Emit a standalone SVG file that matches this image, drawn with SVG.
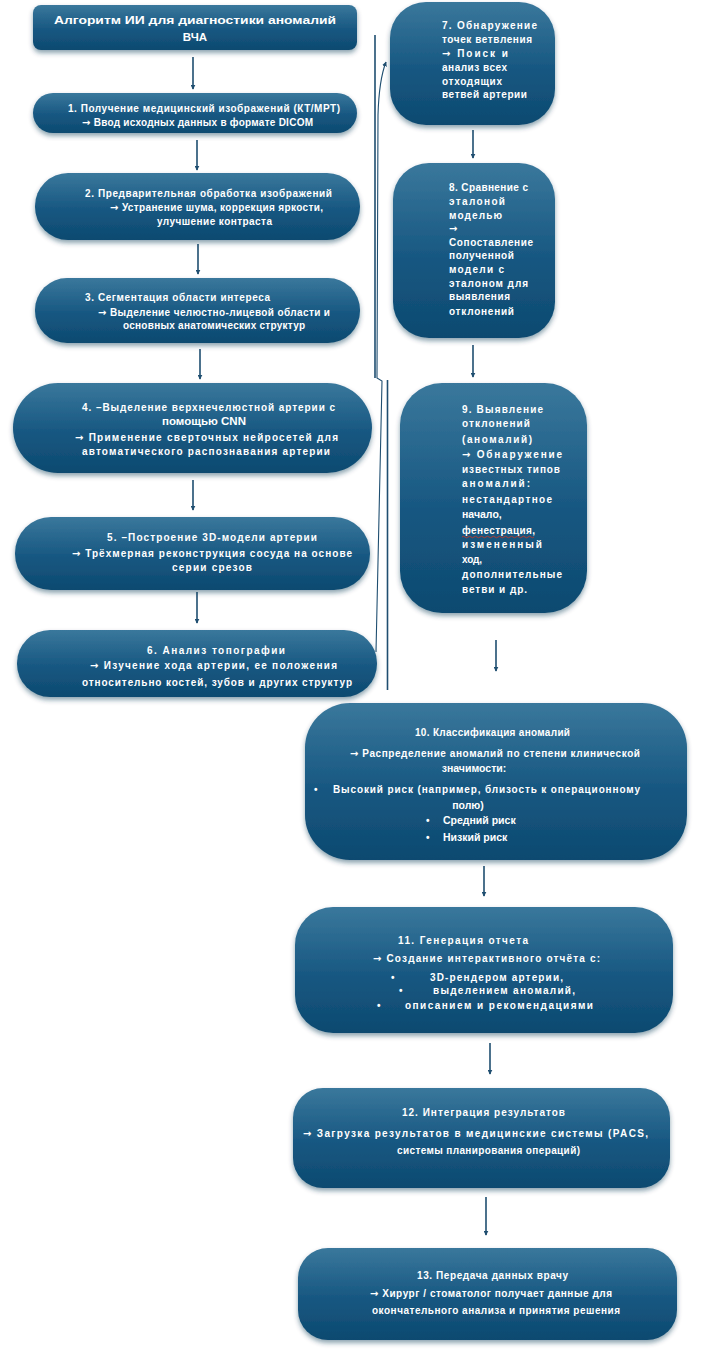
<svg xmlns="http://www.w3.org/2000/svg" width="721" height="1355" viewBox="0 0 721 1355">
<defs>
<linearGradient id="g" x1="0" y1="0" x2="0" y2="1">
<stop offset="0" stop-color="#3a789c"/>
<stop offset="0.55" stop-color="#175781"/>
<stop offset="1" stop-color="#0d4a70"/>
</linearGradient>
<filter id="sh" x="-10%" y="-10%" width="120%" height="130%">
<feDropShadow dx="0" dy="3" stdDeviation="2.5" flood-color="#0b3350" flood-opacity="0.45"/>
</filter>
<marker id="ah" viewBox="0 0 8 8" refX="7" refY="4" markerWidth="5" markerHeight="5" orient="auto" markerUnits="userSpaceOnUse">
<path d="M0,0 L8,4 L0,8 Z" fill="#1f4e70"/>
</marker>
</defs>
<style>
.box{fill:url(#g);filter:url(#sh)}
.t{font-family:"Liberation Sans",Arial,sans-serif;font-weight:bold;font-size:10px;fill:#ffffff}
.tt{font-family:"Liberation Sans",Arial,sans-serif;font-weight:bold;font-size:11.5px;fill:#ffffff}
.ar{font-family:"DejaVu Sans",sans-serif}
.c{stroke:#1f4e70;stroke-width:1.6;fill:none}
.cl{stroke:#1f4e70;stroke-width:1.1;fill:none}
</style>
<rect width="721" height="1355" fill="#ffffff"/>

<g id="connectors">
<line class="c" x1="193" y1="57" x2="193" y2="89" marker-end="url(#ah)"/>
<line class="c" x1="197" y1="140" x2="197" y2="170" marker-end="url(#ah)"/>
<line class="c" x1="198" y1="244" x2="198" y2="274" marker-end="url(#ah)"/>
<line class="c" x1="200" y1="349" x2="200" y2="379" marker-end="url(#ah)"/>
<line class="c" x1="193" y1="480" x2="193" y2="510" marker-end="url(#ah)"/>
<line class="c" x1="197" y1="592" x2="197" y2="623" marker-end="url(#ah)"/>
<line class="c" x1="473" y1="130" x2="473" y2="158" marker-end="url(#ah)"/>
<line class="c" x1="473" y1="345" x2="473" y2="377" marker-end="url(#ah)"/>
<line class="c" x1="496" y1="640" x2="496" y2="671" marker-end="url(#ah)"/>
<line class="c" x1="484" y1="866" x2="484" y2="896" marker-end="url(#ah)"/>
<line class="c" x1="490" y1="1043" x2="490" y2="1074" marker-end="url(#ah)"/>
<line class="c" x1="486" y1="1197" x2="486" y2="1235" marker-end="url(#ah)"/>
<line class="c" x1="375" y1="35" x2="375" y2="378"/>
<line class="c" x1="387.5" y1="380" x2="387.5" y2="690"/>
<path class="cl" d="M376,652 L382,381 L377,378 L378,115 Q379,80 386,62" marker-end="url(#ah)"/>
</g>

<g id="title">
<rect class="box" x="33" y="5" width="324" height="45" rx="8"/>
<text class="tt" x="195" y="24" text-anchor="middle" textLength="282" lengthAdjust="spacingAndGlyphs">Алгоритм ИИ для диагностики аномалий</text>
<text class="tt" x="195" y="41" text-anchor="middle">ВЧА</text>
</g>

<g id="node1">
<rect class="box" x="33" y="93" width="324" height="40" rx="20"/>
<text class="t" x="68" y="111.5" textLength="272" lengthAdjust="spacing">1.  Получение медицинский изображений (КТ/МРТ)</text>
<text class="t" x="82" y="125.5" textLength="231" lengthAdjust="spacing"><tspan class="ar">→</tspan> Ввод исходных данных в формате DICOM</text>
</g>

<g id="node2">
<rect class="box" x="35" y="173" width="325" height="67" rx="33"/>
<text class="t" x="85" y="196.5" textLength="247" lengthAdjust="spacing">2.  Предварительная обработка изображений</text>
<text class="t" x="110" y="210.5" textLength="213" lengthAdjust="spacing"><tspan class="ar">→</tspan> Устранение шума, коррекция яркости,</text>
<text class="t" x="157" y="224.5" textLength="115" lengthAdjust="spacing">улучшение контраста</text>
</g>

<g id="node3">
<rect class="box" x="35" y="278" width="325" height="65" rx="32"/>
<text class="t" x="85" y="300.5" textLength="185" lengthAdjust="spacing">3.  Сегментация области интереса</text>
<text class="t" x="98" y="315.5" textLength="232" lengthAdjust="spacing"><tspan class="ar">→</tspan> Выделение челюстно-лицевой области и</text>
<text class="t" x="123" y="328.5" textLength="182" lengthAdjust="spacing">основных анатомических структур</text>
</g>

<g id="node4">
<rect class="box" x="13" y="383" width="359" height="90" rx="45"/>
<text class="t" x="82" y="410.5" textLength="253" lengthAdjust="spacing">4. –Выделение верхнечелюстной артерии с</text>
<text class="t" x="204" y="424.5" text-anchor="middle" style="font-size:11.5px">помощью CNN</text>
<text class="t" x="75" y="440.5" textLength="263" lengthAdjust="spacing"><tspan class="ar">→</tspan> Применение сверточных нейросетей для</text>
<text class="t" x="82" y="454.5" textLength="248" lengthAdjust="spacing">автоматического распознавания артерии</text>
</g>

<g id="node5">
<rect class="box" x="15" y="517" width="355" height="73" rx="36"/>
<text class="t" x="107" y="540.5" textLength="210" lengthAdjust="spacing">5. –Построение 3D-модели артерии</text>
<text class="t" x="72" y="556.5" textLength="280" lengthAdjust="spacing"><tspan class="ar">→</tspan> Трёхмерная реконструкция сосуда на основе</text>
<text class="t" x="172" y="570.5" textLength="80" lengthAdjust="spacing">серии срезов</text>
</g>

<g id="node6">
<rect class="box" x="17" y="630" width="360" height="67" rx="33"/>
<text class="t" x="147" y="653.5" textLength="138" lengthAdjust="spacing">6.   Анализ топографии</text>
<text class="t" x="90" y="668.5" textLength="247" lengthAdjust="spacing"><tspan class="ar">→</tspan> Изучение хода артерии, ее положения</text>
<text class="t" x="82" y="685.5" textLength="270" lengthAdjust="spacing">относительно костей, зубов и других структур</text>
</g>

<g id="node7">
<rect class="box" x="390" y="2" width="165" height="123" rx="36"/>
<text class="t" x="442" y="28.5" textLength="95" lengthAdjust="spacing">7. Обнаружение</text>
<text class="t" x="442" y="42.5" textLength="90" lengthAdjust="spacing">точек ветвления</text>
<text class="t" x="442" y="56.5" textLength="66" lengthAdjust="spacing"><tspan class="ar">→</tspan> Поиск и</text>
<text class="t" x="442" y="70.5" textLength="65" lengthAdjust="spacing">анализ всех</text>
<text class="t" x="442" y="84.5" textLength="60" lengthAdjust="spacing">отходящих</text>
<text class="t" x="442" y="97.5" textLength="85" lengthAdjust="spacing">ветвей артерии</text>
</g>

<g id="node8">
<rect class="box" x="393" y="163" width="162" height="175" rx="36"/>
<text class="t" x="449" y="190.5" textLength="79" lengthAdjust="spacing">8. Сравнение с</text>
<text class="t" x="449" y="204.5" textLength="56" lengthAdjust="spacing">эталоной</text>
<text class="t" x="449" y="218.5" textLength="53" lengthAdjust="spacing">моделью</text>
<text class="t" x="449" y="231.5"><tspan class="ar">→</tspan></text>
<text class="t" x="449" y="245.5" textLength="84" lengthAdjust="spacing">Сопоставление</text>
<text class="t" x="449" y="258.5" textLength="65" lengthAdjust="spacing">полученной</text>
<text class="t" x="449" y="272.5" textLength="55" lengthAdjust="spacing">модели с</text>
<text class="t" x="449" y="286.5" textLength="79" lengthAdjust="spacing">эталоном для</text>
<text class="t" x="449" y="299.5" textLength="61" lengthAdjust="spacing">выявления</text>
<text class="t" x="449" y="314.5" textLength="65" lengthAdjust="spacing">отклонений</text>
</g>

<g id="node9">
<rect class="box" x="400" y="383" width="187" height="230" rx="42"/>
<text class="t" x="462" y="412.5" textLength="81" lengthAdjust="spacing">9. Выявление</text>
<text class="t" x="462" y="426.5" textLength="68" lengthAdjust="spacing">отклонений</text>
<text class="t" x="462" y="442.5" textLength="70" lengthAdjust="spacing">(аномалий)</text>
<text class="t" x="462" y="457.5" textLength="100" lengthAdjust="spacing"><tspan class="ar">→</tspan> Обнаружение</text>
<text class="t" x="462" y="472.5" textLength="98" lengthAdjust="spacing">известных типов</text>
<text class="t" x="462" y="486.5" textLength="68" lengthAdjust="spacing">аномалий:</text>
<text class="t" x="462" y="502.5" textLength="90" lengthAdjust="spacing">нестандартное</text>
<text class="t" x="462" y="517.5" style="font-size:10.5px">начало,</text>
<text class="t" x="462" y="533.5" textLength="73" lengthAdjust="spacing">фенестрация,</text>
<path d="M462,537 q1.5,-1.5 3,0 t3,0 t3,0 t3,0 t3,0 t3,0 t3,0 t3,0 t3,0 t3,0 t3,0 t3,0 t3,0 t3,0 t3,0 t3,0 t3,0 t3,0 t3,0 t3,0 t3,0 t3,0 t3,0 t3,0" fill="none" stroke="#c0392b" stroke-width="0.9"/>
<text class="t" x="462" y="547.5" textLength="80" lengthAdjust="spacing">измененный</text>
<text class="t" x="462" y="562.5" textLength="20" lengthAdjust="spacing">ход,</text>
<text class="t" x="462" y="577.5" textLength="100" lengthAdjust="spacing">дополнительные</text>
<text class="t" x="462" y="592.5" textLength="65" lengthAdjust="spacing">ветви и др.</text>
</g>

<g id="node10">
<rect class="box" x="305" y="703" width="382" height="157" rx="45"/>
<text class="t" x="415" y="735.5" textLength="155" lengthAdjust="spacing">10. Классификация аномалий</text>
<text class="t" x="350" y="756.5" textLength="290" lengthAdjust="spacing"><tspan class="ar">→</tspan> Распределение аномалий по степени клинической</text>
<text class="t" x="474" y="771.5" text-anchor="middle" style="font-size:10.5px">значимости:</text>
<text class="t" x="314" y="792.5">•</text>
<text class="t" x="333" y="792.5" textLength="307" lengthAdjust="spacing">Высокий риск (например, близость к операционному</text>
<text class="t" x="468" y="808.5" text-anchor="middle" style="font-size:10.5px">полю)</text>
<text class="t" x="426" y="823.5">•</text>
<text class="t" x="443" y="823.5" style="font-size:10.5px">Средний риск</text>
<text class="t" x="426" y="840.5">•</text>
<text class="t" x="443" y="840.5" style="font-size:10.5px">Низкий риск</text>
</g>

<g id="node11">
<rect class="box" x="295" y="907" width="378" height="126" rx="38"/>
<text class="t" x="398" y="943.5" textLength="130" lengthAdjust="spacing">11. Генерация отчета</text>
<text class="t" x="373" y="961.5" textLength="227" lengthAdjust="spacing"><tspan class="ar">→</tspan> Создание интерактивного отчёта с:</text>
<text class="t" x="391" y="980.5">•</text>
<text class="t" x="430" y="980.5" textLength="133" lengthAdjust="spacing">3D-рендером артерии,</text>
<text class="t" x="399" y="993.5">•</text>
<text class="t" x="433" y="993.5" textLength="142" lengthAdjust="spacing">выделением аномалий,</text>
<text class="t" x="377" y="1008.5">•</text>
<text class="t" x="405" y="1008.5" textLength="188" lengthAdjust="spacing">описанием и рекомендациями</text>
</g>

<g id="node12">
<rect class="box" x="293" y="1088" width="377" height="100" rx="30"/>
<text class="t" x="402" y="1115.5" textLength="163" lengthAdjust="spacing">12. Интеграция результатов</text>
<text class="t" x="303" y="1136.5" textLength="345" lengthAdjust="spacing"><tspan class="ar">→</tspan> Загрузка результатов в медицинские системы (PACS,</text>
<text class="t" x="397" y="1153.5" textLength="183" lengthAdjust="spacing">системы планирования операций)</text>
</g>

<g id="node13">
<rect class="box" x="298" y="1248" width="379" height="92" rx="30"/>
<text class="t" x="417" y="1278.5" textLength="151" lengthAdjust="spacing">13. Передача данных врачу</text>
<text class="t" x="370" y="1296.5" textLength="242" lengthAdjust="spacing"><tspan class="ar">→</tspan> Хирург / стоматолог получает данные для</text>
<text class="t" x="372" y="1313.5" textLength="248" lengthAdjust="spacing">окончательного анализа и принятия решения</text>
</g>
</svg>
